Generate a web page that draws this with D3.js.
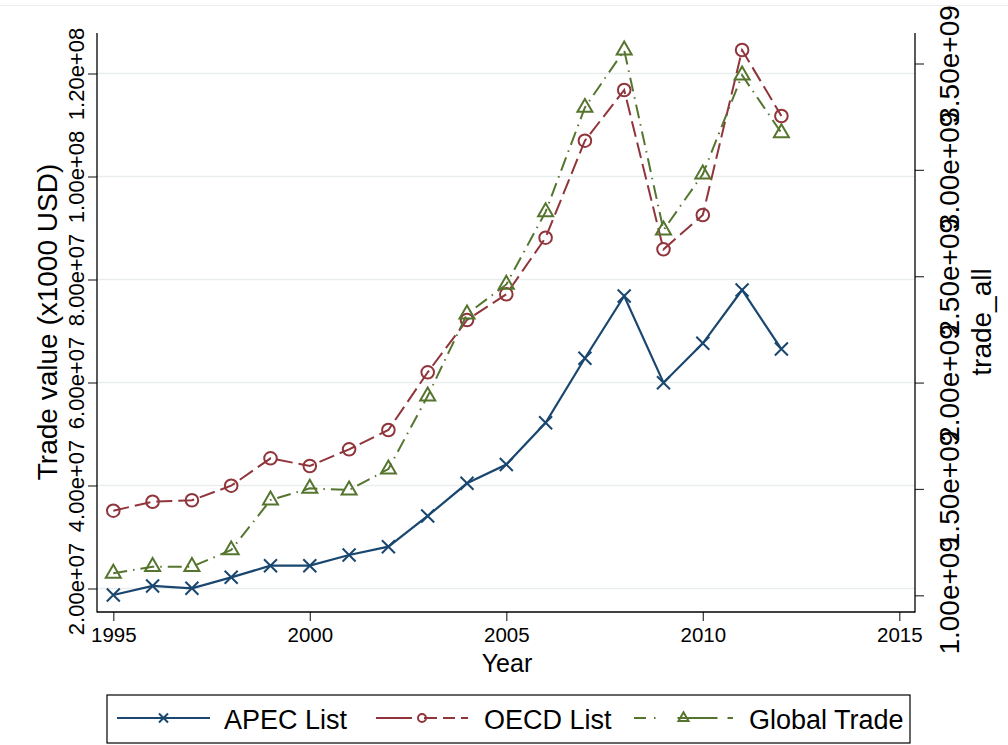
<!DOCTYPE html>
<html>
<head>
<meta charset="utf-8">
<script src="https://cdn.jsdelivr.net/npm/d3@7"></script>
<style>
  body { margin: 0; background: #fff; }
  text { font-family: "Liberation Sans", Arial, sans-serif; fill: #000; }
</style>
</head>
<body>
<div id="viz-container"></div>
<script>
// data
let years = [1995, 1996, 1997, 1998, 1999, 2000, 2001, 2002, 2003,
             2004, 2005, 2006, 2007, 2008, 2009, 2010, 2011, 2012];

// left axis (x1000 USD)
let apec = [1.874e7, 2.049e7, 2.004e7, 2.217e7, 2.443e7, 2.443e7, 2.650e7, 2.812e7, 3.408e7,
            4.043e7, 4.408e7, 5.219e7, 6.470e7, 7.680e7, 5.996e7, 6.761e7, 7.796e7, 6.650e7];
let oecd = [3.511e7, 3.685e7, 3.713e7, 3.996e7, 4.528e7, 4.379e7, 4.703e7, 5.078e7, 6.198e7,
            7.214e7, 7.713e7, 8.812e7, 1.0695e8, 1.168e8, 8.586e7, 9.252e7, 1.2456e8, 1.1175e8];
// right axis (trade_all)
let globalTrade = [1.1034e9, 1.1344e9, 1.1344e9, 1.2129e9, 1.4478e9, 1.5028e9, 1.4948e9, 1.5935e9, 1.9365e9,
                   2.3218e9, 2.4614e9, 2.8025e9, 3.2931e9, 3.5624e9, 2.7166e9, 2.9797e9, 3.4449e9, 3.1738e9];

let xTicks = [1995, 2000, 2005, 2010, 2015];
let leftTicks = [2e7, 4e7, 6e7, 8e7, 1e8, 1.2e8];
let rightTicks = [1e9, 1.5e9, 2e9, 2.5e9, 3e9, 3.5e9];
let legendLabels = ["APEC List", "OECD List", "Global Trade"];

let navy = "#1a476f", maroon = "#90353b", green = "#55752f";

let viz = d3.select("#viz-container")
            .append("svg")
              .attr("width", 1008)
              .attr("height", 745);

let plotLeft = 97, plotRight = 915, plotTop = 33, plotBottom = 612;

let x = d3.scaleLinear().domain([1995, 2015]).range([113.3, 899.3]);
let yL = d3.scaleLinear().domain([2e7, 1.2e8]).range([588.5, 73.5]);
let yR = d3.scaleLinear().domain([1e9, 3.5e9]).range([595.3, 63.5]);

// faint outer frame line at top
viz.append("line").attr("x1", 0).attr("x2", 1008).attr("y1", 5.5).attr("y2", 5.5)
   .attr("stroke", "#ececec").attr("stroke-width", 1);

// grid
viz.selectAll(".grid").data(leftTicks).enter().append("line")
   .attr("class", "grid")
   .attr("x1", plotLeft).attr("x2", plotRight)
   .attr("y1", d => yL(d)).attr("y2", d => yL(d))
   .attr("stroke", "#e9eded").attr("stroke-width", 1.6);

// axes
let fmt = d => d.toExponential(2).replace(/e\+(\d)$/, "e+0$1");

let gx = viz.append("g").attr("transform", "translate(0," + plotBottom + ")")
            .call(d3.axisBottom(x).tickValues(xTicks).tickSize(9).tickPadding(6).tickFormat(d3.format("d")));
gx.select(".domain").remove();
gx.selectAll("text").attr("font-size", 20.5).attr("fill", "#000");
gx.selectAll(".tick line").attr("stroke", "#333").attr("stroke-width", 1.2);

let gyl = viz.append("g").attr("transform", "translate(" + plotLeft + ",0)")
             .call(d3.axisLeft(yL).tickValues(leftTicks).tickSize(9).tickFormat(fmt));
gyl.select(".domain").remove();
gyl.selectAll(".tick line").attr("stroke", "#333").attr("stroke-width", 1.2);
gyl.selectAll("text")
   .attr("font-size", 22).attr("fill", "#000")
   .attr("text-anchor", "middle")
   .attr("x", 0).attr("dy", 0)
   .attr("transform", "translate(-13,0) rotate(-90)");

let gyr = viz.append("g").attr("transform", "translate(" + plotRight + ",0)")
             .call(d3.axisRight(yR).tickValues(rightTicks).tickSize(9).tickFormat(fmt));
gyr.select(".domain").remove();
gyr.selectAll(".tick line").attr("stroke", "#333").attr("stroke-width", 1.2);
gyr.selectAll("text")
   .attr("font-size", 28).attr("fill", "#000")
   .attr("text-anchor", "middle")
   .attr("x", 0).attr("dy", 0)
   .attr("transform", "translate(44,0) rotate(-90)");

viz.append("line").attr("x1", plotLeft).attr("x2", plotLeft).attr("y1", plotTop).attr("y2", plotBottom + 0.6)
   .attr("stroke", "#000").attr("stroke-width", 1.3);
viz.append("line").attr("x1", plotRight).attr("x2", plotRight).attr("y1", plotTop).attr("y2", plotBottom + 0.6)
   .attr("stroke", "#000").attr("stroke-width", 1.3);
viz.append("line").attr("x1", plotLeft).attr("x2", plotRight).attr("y1", plotBottom).attr("y2", plotBottom)
   .attr("stroke", "#000").attr("stroke-width", 1.3);

// axis titles
viz.append("text").text("Trade value (x1000 USD)")
   .attr("font-size", 28).attr("text-anchor", "middle")
   .attr("transform", "translate(57,322) rotate(-90)");
viz.append("text").text("trade_all")
   .attr("font-size", 28).attr("text-anchor", "middle")
   .attr("transform", "translate(991,322) rotate(-90)");
viz.append("text").text("Year")
   .attr("font-size", 25).attr("text-anchor", "middle")
   .attr("x", 507).attr("y", 672);

// markers
function crossPath(s){
  return "M" + (-s) + "," + (-s) + "L" + s + "," + s + "M" + (-s) + "," + s + "L" + s + "," + (-s);
}
function triPath(s){
  return "M0," + (-s * 1.15) + "L" + s + "," + (s * 0.58) + "L" + (-s) + "," + (s * 0.58) + "Z";
}

let series = [
  {name: legendLabels[0], values: apec, y: yL, color: navy, dash: null, width: 2.2, marker: "x"},
  {name: legendLabels[1], values: oecd, y: yL, color: maroon, dash: "16,6", width: 2, marker: "o"},
  {name: legendLabels[2], values: globalTrade, y: yR, color: green, dash: "14,6,1.5,6", width: 2, marker: "t"}
];

function drawMarker(g, type, color, big){
  if (type == "x") {
    g.append("path").attr("d", crossPath(big ? 6.5 : 4.5))
     .attr("stroke", color).attr("stroke-width", 2).attr("fill", "none");
  }
  else if (type == "o") {
    g.append("circle").attr("r", big ? 6.3 : 4)
     .attr("stroke", color).attr("stroke-width", 2).attr("fill", "none");
  }
  else {
    g.append("path").attr("d", triPath(big ? 7.5 : 5))
     .attr("stroke", color).attr("stroke-width", 2).attr("fill", "none");
  }
}

series.forEach(function(s){
  let line = d3.line().x((d, i) => x(years[i])).y(d => s.y(d));
  viz.append("path").datum(s.values)
     .attr("d", line)
     .attr("fill", "none")
     .attr("stroke", s.color)
     .attr("stroke-width", s.width)
     .attr("stroke-dasharray", s.dash);
  s.values.forEach(function(v, i){
    let g = viz.append("g").attr("transform", "translate(" + x(years[i]) + "," + s.y(v) + ")");
    drawMarker(g, s.marker, s.color, true);
  });
});

// legend
viz.append("rect").attr("x", 107).attr("y", 695).attr("width", 803).attr("height", 48)
   .attr("fill", "#fff").attr("stroke", "#000").attr("stroke-width", 1.2);

let legendKeys = [
  {x1: 117, x2: 210, text: 224},
  {x1: 376, x2: 468, text: 484},
  {x1: 634, x2: 733, text: 749}
];
series.forEach(function(s, i){
  let k = legendKeys[i];
  let ly = 718;
  viz.append("line").attr("x1", k.x1).attr("x2", k.x2).attr("y1", ly).attr("y2", ly)
     .attr("stroke", s.color).attr("stroke-width", s.width)
     .attr("stroke-dasharray", i == 1 ? "36,12,13,6,12,6" : (i == 2 ? "12,8,1.5,22,40,10,14" : null));
  let g = viz.append("g").attr("transform", "translate(" + ((k.x1 + k.x2) / 2) + "," + ly + ")");
  drawMarker(g, s.marker, s.color, false);
  viz.append("text").text(s.name)
     .attr("x", k.text).attr("y", 729)
     .attr("font-size", 27);
});
</script>
</body>
</html>
